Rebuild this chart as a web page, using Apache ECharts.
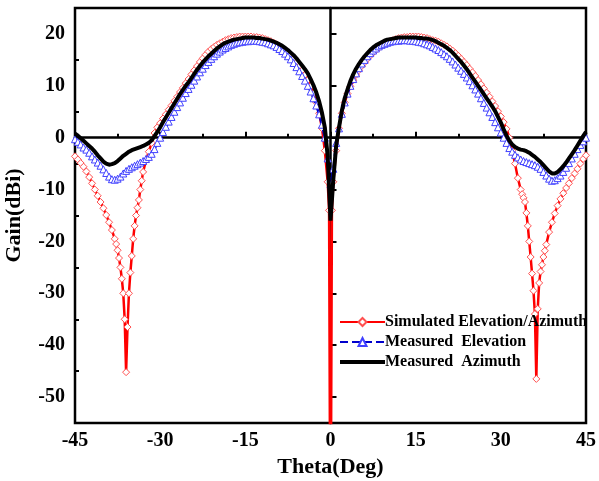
<!DOCTYPE html>
<html>
<head>
<meta charset="utf-8">
<script src="https://cdn.jsdelivr.net/npm/echarts@6/dist/echarts.min.js"></script>
<style>
  html, body { margin: 0; padding: 0; background: #fff; }
  #chart { width: 599px; height: 481px; }
</style>
</head>
<body>
<div id="chart"></div>
<script>
// simulated pattern (finer steps around the nulls)
var thetaSim = [
  -45, -44.5, -44, -43.5, -43, -42.5, -42, -41.5, -41, -40.5,
  -40, -39.5, -39, -38.5, -38, -37.75, -37.5, -37.25, -37, -36.75,
  -36.5, -36.25, -36, -35.75, -35.5, -35.25, -35, -34.75, -34.5, -34.25,
  -34, -33.75, -33.5, -33.25, -33, -32.5, -32, -31.5, -31, -30.5,
  -30, -29.5, -29, -28.5, -28, -27.5, -27, -26.5, -26, -25.5,
  -25, -24.5, -24, -23.5, -23, -22.5, -22, -21.5, -21, -20.5,
  -20, -19.5, -19, -18.5, -18, -17.5, -17, -16.5, -16, -15.5,
  -15, -14.5, -14, -13.5, -13, -12.5, -12, -11.5, -11, -10.5,
  -10, -9.5, -9, -8.5, -8, -7.5, -7, -6.5, -6, -5.5,
  -5, -4.5, -4, -3.5, -3, -2.5, -2, -1.5, -1, -0.5,
  -0.25, 0, 0.25,
  0.5, 1, 1.5, 2, 2.5, 3, 3.5, 4, 4.5, 5,
  5.5, 6, 6.5, 7, 7.5, 8, 8.5, 9, 9.5, 10,
  10.5, 11, 11.5, 12, 12.5, 13, 13.5, 14, 14.5, 15,
  15.5, 16, 16.5, 17, 17.5, 18, 18.5, 19, 19.5, 20,
  20.5, 21, 21.5, 22, 22.5, 23, 23.5, 24, 24.5, 25,
  25.5, 26, 26.5, 27, 27.5, 28, 28.5, 29, 29.5, 30,
  30.5, 31, 31.5, 32, 32.5, 33, 33.5, 33.75, 34, 34.25,
  34.5, 34.75, 35, 35.25, 35.5, 35.75, 36, 36.25, 36.5, 36.75,
  37, 37.25, 37.5, 37.75, 38, 38.5, 39, 39.5, 40, 40.5,
  41, 41.5, 42, 42.5, 43, 43.5, 44, 44.5, 45
];
var gainSim = [
  -3.6, -4.2, -4.9, -5.6, -6.5, -7.6, -8.8, -10.0, -11.2, -12.4,
  -13.6, -14.9, -16.3, -17.8, -19.5, -20.5, -21.7, -23.2, -25.0, -27.2,
  -30.0, -35.0, -45.2, -36.5, -30.0, -26.0, -22.8, -19.5, -17.0, -15.0,
  -13.5, -12.0, -10.0, -8.3, -6.6, -4.4, -2.7, -1.0, 0.9, 2.0,
  2.8, 3.7, 4.5, 5.4, 6.2, 7.1, 7.9, 8.8, 9.6, 10.5,
  11.3, 12.2, 13.0, 13.8, 14.6, 15.3, 16.0, 16.6, 17.1, 17.5,
  17.9, 18.2, 18.5, 18.8, 19.0, 19.2, 19.3, 19.4, 19.5, 19.5,
  19.5, 19.5, 19.5, 19.4, 19.4, 19.3, 19.2, 19.0, 18.8, 18.6,
  18.3, 18.0, 17.7, 17.3, 16.9, 16.4, 15.8, 15.2, 14.5, 13.8,
  13.0, 12.1, 11.1, 9.9, 8.5, 6.8, 4.7, 1.8, -2.5, -8.5,
  -14, -90, -14,
  -8.5, -2.5, 1.8, 4.7, 6.8, 8.5, 9.9, 11.1, 12.1, 13.0,
  13.8, 14.5, 15.2, 15.8, 16.4, 16.9, 17.3, 17.7, 18.0, 18.3,
  18.6, 18.8, 19.0, 19.2, 19.3, 19.4, 19.4, 19.5, 19.5, 19.5,
  19.5, 19.4, 19.3, 19.2, 19.0, 18.8, 18.7, 18.5, 18.2, 17.9,
  17.6, 17.2, 16.8, 16.3, 15.8, 15.2, 14.6, 14.0, 13.3, 12.6,
  11.9, 11.1, 10.3, 9.5, 8.7, 7.9, 7.0, 6.1, 5.1, 4.1,
  3.0, 1.7, 0.0, -2.5, -5.0, -7.8, -10.0, -10.9, -11.6, -12.4,
  -14.5, -17.0, -20.0, -23.0, -26.2, -29.5, -34.0, -46.5, -33.0, -28.0,
  -25.8, -24.5, -23.0, -21.8, -20.6, -18.2, -16.3, -14.6, -13.1, -11.8,
  -10.7, -9.7, -8.8, -7.8, -6.9, -6.0, -5.0, -4.1, -3.4
];

// measured patterns, 0.5 deg steps
var thetaMeas = [
  -45, -44.5, -44, -43.5, -43, -42.5, -42, -41.5, -41, -40.5,
  -40, -39.5, -39, -38.5, -38, -37.5, -37, -36.5, -36, -35.5,
  -35, -34.5, -34, -33.5, -33, -32.5, -32, -31.5, -31, -30.5,
  -30, -29.5, -29, -28.5, -28, -27.5, -27, -26.5, -26, -25.5,
  -25, -24.5, -24, -23.5, -23, -22.5, -22, -21.5, -21, -20.5,
  -20, -19.5, -19, -18.5, -18, -17.5, -17, -16.5, -16, -15.5,
  -15, -14.5, -14, -13.5, -13, -12.5, -12, -11.5, -11, -10.5,
  -10, -9.5, -9, -8.5, -8, -7.5, -7, -6.5, -6, -5.5,
  -5, -4.5, -4, -3.5, -3, -2.5, -2, -1.5, -1, -0.5,
  0,
  0.5, 1, 1.5, 2, 2.5, 3, 3.5, 4, 4.5, 5,
  5.5, 6, 6.5, 7, 7.5, 8, 8.5, 9, 9.5, 10,
  10.5, 11, 11.5, 12, 12.5, 13, 13.5, 14, 14.5, 15,
  15.5, 16, 16.5, 17, 17.5, 18, 18.5, 19, 19.5, 20,
  20.5, 21, 21.5, 22, 22.5, 23, 23.5, 24, 24.5, 25,
  25.5, 26, 26.5, 27, 27.5, 28, 28.5, 29, 29.5, 30,
  30.5, 31, 31.5, 32, 32.5, 33, 33.5, 34, 34.5, 35,
  35.5, 36, 36.5, 37, 37.5, 38, 38.5, 39, 39.5, 40,
  40.5, 41, 41.5, 42, 42.5, 43, 43.5, 44, 44.5, 45
];
var gainElev = [
  -0.3, -0.8, -1.3, -1.9, -2.3, -2.9, -3.6, -4.2, -4.8, -5.4,
  -6.1, -6.8, -7.5, -8.0, -8.1, -7.9, -7.5, -6.9, -6.4, -6.0,
  -5.7, -5.4, -5.1, -4.8, -4.5, -4.1, -3.7, -3.1, -2.2, -1.0,
  0.0, 1.1, 2.1, 3.1, 4.0, 5.0, 5.9, 6.8, 7.7, 8.6,
  9.4, 10.2, 11.0, 11.8, 12.6, 13.3, 14.0, 14.6, 15.2, 15.7,
  16.2, 16.6, 17.0, 17.3, 17.6, 17.9, 18.1, 18.3, 18.4, 18.5,
  18.6, 18.6, 18.7, 18.7, 18.7, 18.6, 18.5, 18.4, 18.2, 18.0,
  17.8, 17.5, 17.1, 16.7, 16.2, 15.7, 15.1, 14.4, 13.6, 12.8,
  11.9, 11.0, 10.0, 8.9, 7.6, 6.2, 4.5, 2.5, 0.0, -4.0,
  -9.0,
  -6.0, -1.0, 1.8, 4.6, 6.8, 8.5, 10.0, 11.3, 12.4, 13.4,
  14.3, 15.0, 15.7, 16.3, 16.8, 17.2, 17.6, 17.9, 18.1, 18.3,
  18.5, 18.6, 18.7, 18.7, 18.8, 18.8, 18.8, 18.7, 18.7, 18.6,
  18.5, 18.4, 18.2, 18.0, 17.8, 17.5, 17.2, 16.9, 16.5, 16.1,
  15.7, 15.2, 14.7, 14.1, 13.5, 12.9, 12.3, 11.6, 10.9, 10.1,
  9.3, 8.5, 7.6, 6.7, 5.8, 4.9, 4.0, 3.0, 2.0, 1.0,
  0.0, -1.0, -2.0, -2.7, -3.3, -3.8, -4.2, -4.5, -4.7, -4.9,
  -5.1, -5.3, -5.6, -6.0, -6.6, -7.3, -7.9, -8.3, -8.2, -7.8,
  -7.3, -6.6, -5.8, -4.9, -4.0, -3.1, -2.2, -1.4, -0.7, 0.0
];
var gainAzim = [
  0.8, 0.4, -0.1, -0.6, -1.1, -1.6, -2.1, -2.7, -3.4, -4.0,
  -4.6, -5.0, -5.2, -5.1, -4.9, -4.5, -4.0, -3.5, -3.1, -2.7,
  -2.4, -2.2, -2.0, -1.8, -1.6, -1.3, -1.0, -0.5, 0.3, 1.1,
  2.0, 3.0, 3.9, 4.8, 5.7, 6.6, 7.5, 8.4, 9.2, 10.0,
  10.7, 11.5, 12.3, 13.1, 13.8, 14.5, 15.1, 15.7, 16.2, 16.7,
  17.2, 17.6, 18.0, 18.3, 18.5, 18.7, 18.9, 19.0, 19.1, 19.2,
  19.3, 19.3, 19.3, 19.3, 19.2, 19.2, 19.1, 19.0, 18.9, 18.7,
  18.5, 18.3, 18.0, 17.7, 17.3, 16.9, 16.4, 15.9, 15.3, 14.6,
  13.9, 13.2, 12.4, 11.3, 10.1, 8.7, 7.0, 4.8, 2.0, -3.5,
  -16.0,
  -8.0, -1.5, 2.0, 5.2, 7.6, 9.3, 10.9, 12.2, 13.3, 14.2,
  15.0, 15.7, 16.3, 16.9, 17.4, 17.8, 18.1, 18.4, 18.7, 18.9,
  19.0, 19.1, 19.2, 19.3, 19.3, 19.3, 19.3, 19.3, 19.3, 19.3,
  19.2, 19.2, 19.1, 19.1, 19.0, 18.8, 18.6, 18.3, 18.0, 17.7,
  17.3, 16.9, 16.4, 15.8, 15.2, 14.6, 13.9, 13.2, 12.4, 11.6,
  10.8, 10.0, 9.2, 8.4, 7.6, 6.8, 6.0, 5.1, 4.0, 2.9,
  1.6, 0.4, -0.6, -1.3, -1.8, -2.1, -2.3, -2.4, -2.6, -2.9,
  -3.3, -3.7, -4.2, -4.7, -5.3, -5.9, -6.5, -6.9, -6.9, -6.6,
  -6.1, -5.5, -4.8, -4.0, -3.2, -2.4, -1.5, -0.6, 0.3, 1.1
];

var xTicks = [-45, -30, -15, 0, 15, 30, 45];
var yMajor = [-50, -40, -30, -20, -10, 0, 10, 20];
var yMinor = [-45, -35, -25, -15, -5, 5, 15];

function pairs(xs, ys) {
    return xs.map(function (x, i) { return [x, ys[i]]; });
}

var font = '"Liberation Serif", "Times New Roman", serif';
var chart = echarts.init(document.getElementById('chart'), null, { renderer: 'canvas' });

var option = {
    animation: false,
    backgroundColor: '#fff',
    grid: {
        left: 75, right: 13, top: 8, bottom: 58,
        show: true, borderColor: '#000', borderWidth: 2.5,
        outerBoundsMode: 'none'
    },
    legend: {
        orient: 'vertical',
        left: 333,
        top: 309,
        itemWidth: 45,
        itemHeight: 10,
        itemGap: 4,
        data: [
            { name: 'Simulated Elevation/Azimuth' },
            { name: 'Measured  Elevation' },
            { name: 'Measured  Azimuth', itemStyle: { opacity: 0 }, lineStyle: { width: 4, color: '#000' } }
        ],
        textStyle: { fontFamily: font, fontWeight: 'bold', fontSize: 16, color: '#000', padding: [0, 0, 0, -5] }
    },
    xAxis: {
        type: 'value',
        min: -45, max: 45, interval: 15,
        name: 'Theta(Deg)',
        nameLocation: 'middle',
        nameGap: 30,
        nameTextStyle: { fontFamily: font, fontWeight: 'bold', fontSize: 22, color: '#000' },
        axisLine: { lineStyle: { color: '#000', width: 2.5 } },
        axisTick: { inside: true, length: 6, lineStyle: { color: '#000', width: 2 } },
        minorTick: { show: true, splitNumber: 2, length: 4, lineStyle: { color: '#000', width: 2 } },
        axisLabel: {
            margin: 8,
            fontFamily: font, fontWeight: 'bold', fontSize: 20, color: '#000',
            customValues: xTicks
        },
        splitLine: { show: false }
    },
    yAxis: [{
        type: 'value',
        min: -55, max: 25,
        name: 'Gain(dBi)',
        nameLocation: 'middle',
        nameGap: 50,
        nameTextStyle: { fontFamily: font, fontWeight: 'bold', fontSize: 22, color: '#000' },
        axisLine: { lineStyle: { color: '#000', width: 2.5 } },
        axisTick: { inside: true, length: 6, lineStyle: { color: '#000', width: 2 }, customValues: yMajor },
        axisLabel: {
            margin: 10,
            fontFamily: font, fontWeight: 'bold', fontSize: 20, color: '#000',
            customValues: yMajor
        },
        splitLine: { show: false }
    }, {
        type: 'value',
        min: -55, max: 25,
        position: 'left',
        offset: 0,
        axisLine: { show: false },
        axisTick: { inside: true, length: 4, lineStyle: { color: '#000', width: 2 }, customValues: yMinor },
        axisLabel: { show: false },
        splitLine: { show: false }
    }],
    series: [{
        name: 'Simulated Elevation/Azimuth',
        type: 'line',
        data: pairs(thetaSim, gainSim),
        symbol: 'diamond',
        symbolSize: 7,
        itemStyle: { color: '#fff', borderColor: '#ff5050', borderWidth: 1 },
        lineStyle: { color: '#ff0000', width: 2.5 },
        z: 2
    }, {
        name: 'Measured  Elevation',
        type: 'line',
        data: pairs(thetaMeas, gainElev),
        symbol: 'triangle',
        symbolSize: 7,
        itemStyle: { color: '#fff', borderColor: '#4040ff', borderWidth: 1 },
        lineStyle: { color: '#0000cc', width: 2.5, type: [8, 4] },
        z: 3
    }, {
        name: 'Measured  Azimuth',
        type: 'line',
        data: pairs(thetaMeas, gainAzim),
        symbol: 'none',
        itemStyle: { color: '#000' },
        lineStyle: { color: '#000', width: 4 },
        z: 4
    }]
};
chart.setOption(option);
</script>
</body>
</html>
